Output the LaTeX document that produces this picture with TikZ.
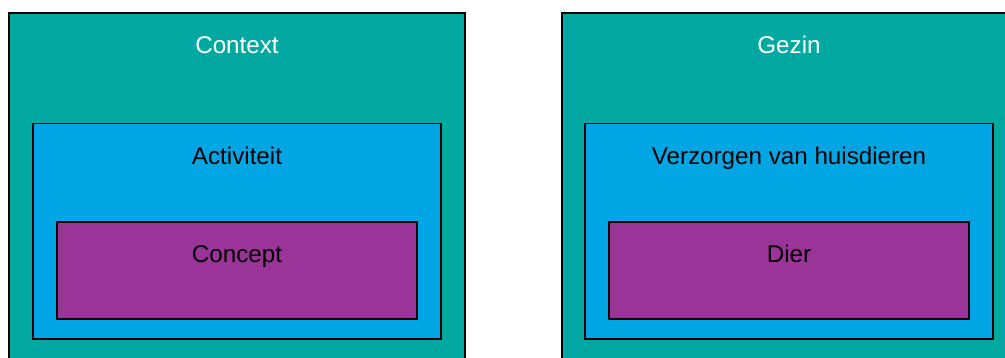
\documentclass[tikz,border=0pt]{standalone}
\usepackage{fontspec}
\setmainfont{Liberation Sans}
\definecolor{tealbg}{RGB}{0,168,162}
\definecolor{bluebg}{RGB}{0,166,228}
\definecolor{purplebg}{RGB}{155,52,152}
\tikzset{
  box/.style={draw=black, line width=1.3pt, inner sep=0pt, rectangle},
  outerbox/.style={box, fill=tealbg},
  midbox/.style={box, fill=bluebg},
  innerbox/.style={box, fill=purplebg},
  lbl/.style={inner sep=0pt, anchor=base, font=\fontsize{24.2}{28}\selectfont},
}
\begin{document}
\begin{tikzpicture}[x=1pt, y=-1pt]
  \useasboundingbox (0,0) rectangle (1005,358);
  \clip (0,0) rectangle (1005,358);
  % left stack
  \node[outerbox, minimum width=456pt, minimum height=370pt] (ctx) at (237,198) {};
  \node[midbox, minimum width=408pt, minimum height=215.5pt] (act) at (237,231.25) {};
  \node[innerbox, minimum width=360pt, minimum height=97pt] (con) at (237,270.5) {};
  \node[lbl, text=white] (ctxl) at (237,53.5) {Context};
  \node[lbl] (actl) at (237,164.5) {Activiteit};
  \node[lbl] (conl) at (237,262.5) {Concept};
  % right stack
  \node[outerbox, minimum width=456pt, minimum height=370pt] (gez) at (790,198) {};
  \node[midbox, minimum width=408pt, minimum height=215.5pt] (ver) at (789,231.25) {};
  \node[innerbox, minimum width=360pt, minimum height=97pt] (die) at (789,270.5) {};
  \node[lbl, text=white] (gezl) at (789,53.5) {Gezin};
  \node[lbl] (verl) at (789,164.5) {Verzorgen van huisdieren};
  \node[lbl] (diel) at (789,262.5) {Dier};
\end{tikzpicture}
\end{document}
